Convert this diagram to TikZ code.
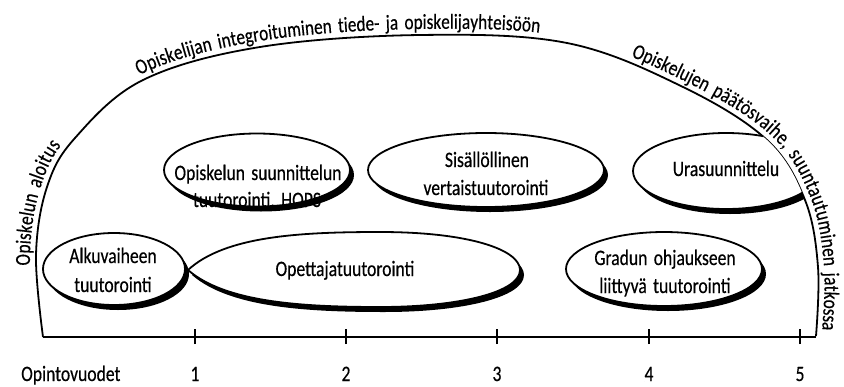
\documentclass[tikz,border=0pt]{standalone}
\usepackage{fontspec}
\setmainfont{Carlito}[FakeStretch=0.8, WordSpace=1.6, FakeBold=0.4]
\usetikzlibrary{shapes.geometric,shadows,decorations.text}
\newcommand\lblfont{\fontsize{22}{26}\selectfont}
\newcommand\arcfont{\fontsize{21.5}{24}\selectfont}
\newcommand\bigarc{plot[smooth, tension=0.6] coordinates {(43,337) (36,255) (47,187) (75,138) (143,80) (260,47) (420,35) (567,43) (683,87) (767,140) (805,200) (818,267) (816,336)}}
\newcommand\leftarc{plot[smooth, tension=0.6] coordinates {(43,337) (36,255) (47,187) (75,138) (143,80) (260,47) (420,35) (567,43) (683,87)}}
\newcommand\rightarc{plot[smooth, tension=0.6] coordinates {(420,35) (567,43) (683,87) (767,140) (805,200) (818,267) (816,336) (812,420)}}
\begin{document}
\begin{tikzpicture}[x=1pt,y=-1pt,
  bubble/.style={ellipse, draw=black, line width=1.8pt, fill=white, inner sep=0pt,
    drop shadow={shadow xshift=4pt, shadow yshift=-5pt, fill=black, opacity=1}},
  lbl/.style={font=\lblfont, inner sep=0pt, anchor=base},
  arctext/.style={decorate, decoration={text along path, text align={left, left indent=#1}, raise=6pt}},
  tick/.style={line width=2pt},
]
\useasboundingbox (0,0) rectangle (844,386);

% outer arc
\draw[line width=1.8pt, line join=miter] \bigarc;

% arc texts
\path[arctext=72pt, decoration={text={|\arcfont|Opiskelun aloitus}}] \leftarc;
\path[arctext=297pt, decoration={text={|\arcfont|Opiskelijan integroituminen tiede- ja opiskelijayhteisöön}}] \leftarc;
\path[arctext=212pt, decoration={text={|\arcfont|Opiskelujen päätösvaihe, suuntautuminen jatkossa}}] \rightarc;

% top row bubbles
\node[bubble, minimum width=186pt, minimum height=73pt] (hops) at (257,170) {};
\node[bubble, minimum width=236pt, minimum height=74pt] (sisal) at (486,170) {};
\begin{scope}
  \clip \bigarc -- cycle;
  \node[bubble, minimum width=186pt, minimum height=76pt] (ura) at (726,171) {};
\end{scope}

% bottom row bubbles
\node[bubble, minimum width=196pt, minimum height=74pt] (gradu) at (664,269) {};
\node[bubble, minimum width=142pt, minimum height=72pt] (alku) at (114,269) {};
\fill[black, shift={(4,5)}] (188,270) .. controls (225,236) and (300,232) .. (380,232)
  .. controls (470,232) and (520,250) .. (520,270)
  .. controls (520,292) and (460,307) .. (380,307)
  .. controls (300,307) and (225,302) .. (188,270) -- cycle;
\draw[line width=1.8pt, fill=white] (188,270) .. controls (225,236) and (300,232) .. (380,232)
  .. controls (470,232) and (520,250) .. (520,270)
  .. controls (520,292) and (460,307) .. (380,307)
  .. controls (300,307) and (225,302) .. (188,270) -- cycle;

% bubble labels
\node[lbl] (hops1) at (258,180) {Opiskelun suunnittelun};
\node[lbl] (hops2) at (257,207) {tuutorointi, HOPS};
\node[lbl] (sisal1) at (487,167) {Sisällöllinen};
\node[lbl] (sisal2) at (486,195) {vertaistuutorointi};
\node[lbl] (ura1) at (726,176) {Urasuunnittelu};
\node[lbl] (alku1) at (113,263) {Alkuvaiheen};
\node[lbl] (alku2) at (113,292) {tuutorointi};
\node[lbl] (opet) at (345,276) {Opettajatuutorointi};
\node[lbl] (gradu1) at (665,265) {Gradun ohjaukseen};
\node[lbl] (gradu2) at (665,293) {liittyvä tuutorointi};

% axis
\coordinate (a0) at (43,337);
\coordinate (a5) at (816,337);
\draw[line width=2.2pt] (a0) -- (a5);
\foreach \i/\x in {1/195,2/346,3/497,4/649,5/800}{
  \coordinate (t\i) at (\x,337);
  \draw[tick] ([yshift=-7pt]t\i) -- ([yshift=8pt]t\i);
  \node[lbl] (n\i) at (\x,381) {\i};
}
\node[lbl, anchor=base west] (ov) at (21,381) {Opintovuodet};
\end{tikzpicture}
\end{document}
